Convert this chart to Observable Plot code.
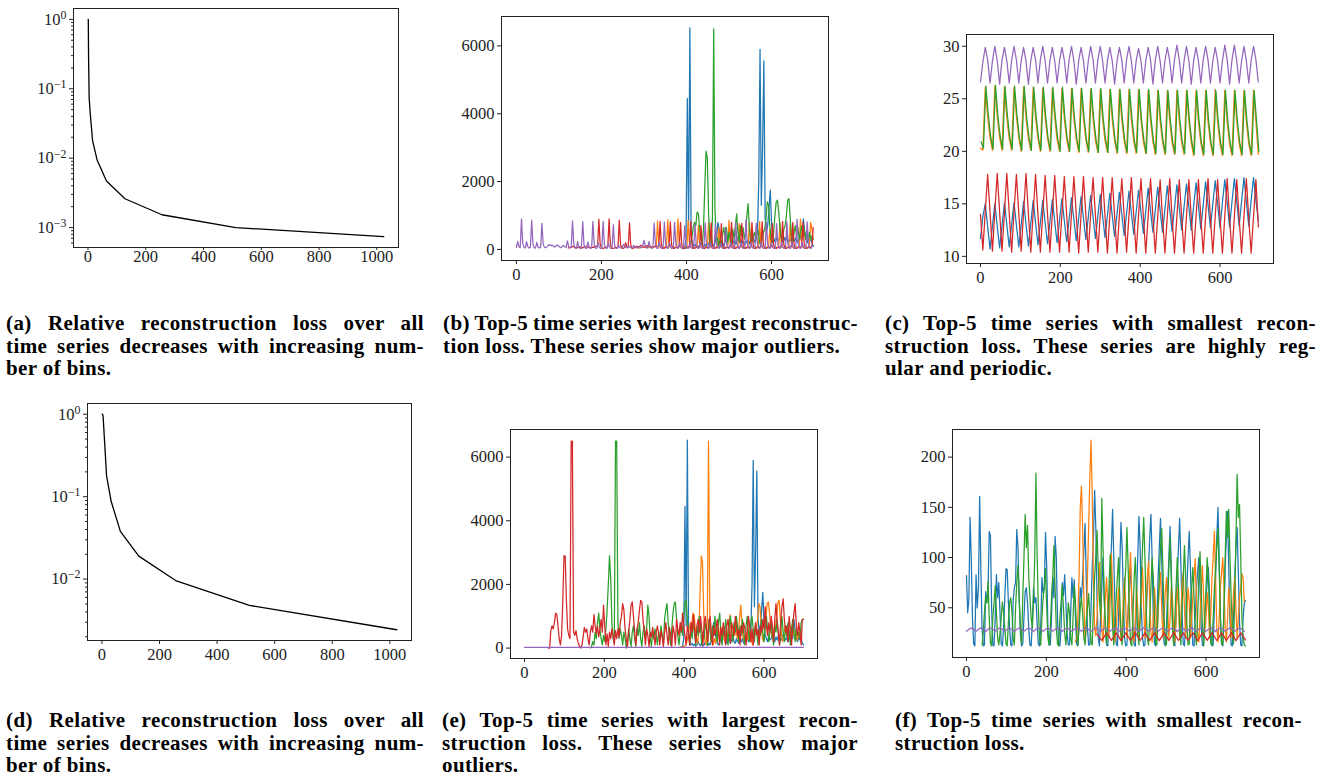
<!DOCTYPE html>
<html><head><meta charset="utf-8">
<script src="https://cdn.jsdelivr.net/npm/d3@7"></script>
<script src="https://cdn.jsdelivr.net/npm/@observablehq/plot@0.6"></script>
<style>
body{margin:0;background:#fff;}
#page{position:relative;width:1330px;height:782px;overflow:hidden;background:#fff;}
.cap{position:absolute;font-family:"Liberation Serif",serif;font-weight:bold;font-size:21px;line-height:22.5px;color:#000;letter-spacing:0.4px;}
.cap div{white-space:nowrap;}
</style></head><body><div id="page"></div>
<script>
// ---------- DATA ----------
const bins = [1,2,4,8,16,32,64,128,256,512,1024];
const lossA = [1.0,0.3,0.075,0.043,0.0177,0.0093,0.0047,0.0026,0.00153,0.00100,0.00074];
const lossD = [1.0,1.0,0.95,0.55,0.18,0.088,0.038,0.019,0.0096,0.0048,0.00243];
const xTicksBins = [0,200,400,600,800,1000];
const xTicksTime = [0,200,400,600];
const yTicksB = [0,2000,4000,6000];
const yTicksC = [10,15,20,25,30];
const yTicksF = [50,100,150,200];
const yTicksA = [1e-3,1e-2,1e-1,1];
const yTicksD = [1e-2,1e-1,1];

// panel (b) series, sampled every 3 steps from the given start
const bPurple = [60,240,80,50,900,170,60,40, 230,80,40,60,860,160,50,40, 210,70,40,60,770,150,60,50, 80,120,140,110,130,90,70,100,
 130,100,70,50,90,120,80,60, 250,80,50,60,840,150,50,30, 230,60,30,50,820,140,40,30, 220,60,30,50,830,150,40,30,
 200,60,30,50,830,140,40,30, 190,60,30,40,720,130,40,30, 120,60,40,50,150,90,60,40, 100,60,40,50,120,80,50,40,
 90,60,50,80,270,110,50,40, 240,70,30,50,780,150,40,30, 220,70,30,50,810,150,40,30, 200,60,30,50,800,140,40,30,
 210,60,30,50,700,140,40,30, 200,60,30,50,750,130,40,30, 190,60,30,50,780,140,40,30, 200,60,30,50,760,140,40,30,
 180,60,30,50,640,130,40,30, 200,60,30,50,800,140,40,30, 210,60,30,50,870,150,40,30, 190,60,30,50,770,140,40,30,
 200,60,30,50,800,140,40,30, 190,60,30,50,760,140,40,30, 200,60,30,50,820,140,40,30, 220,60,30,50,890,150,40,30,
 210,60,30,50,810,140,40,30, 120];
const bRed = [40,60,50,70,90,60,40,50, 60,80,50,40,60,90,70,50, 80,60,50,70,60,80,90,100, 890,160,50,30,40,70,60,80,
 900,150,40,30,40,60,50,70, 860,140,40,30,50,200,60,70, 780,130,40,30,60,80,90,70, 90,120,100,80,60,90,110,80,
 100,80,60,70,90,80,100,120, 830,140,40,30,50,80,60,90, 810,130,40,30,50,70,60,80, 800,140,40,30,50,80,60,80,
 820,140,40,30,50,80,60,90, 700,130,40,30,50,70,60,80, 780,140,40,30,50,80,60,80, 760,130,40,30,50,70,60,80,
 800,140,40,30,50,80,60,90, 770,130,40,30,50,70,60,80, 790,140,40,30,50,80,60,80, 820,140,40,30,50,80,60,80,
 760,130,40,30,50,70,60,80, 830,140,40,30,50,80,60,90, 800,140,40,30,50,80,60,80, 810,140,40,30,50,80,60,80, 650];
const bOrange = [60,50,40,60,80,70,50,60, 110,70,50,60,70,80,90,70, 840,150,60,40,50,60,80,70, 880,160,60,40,50,70,60,80,
 900,160,60,40,50,70,60,80, 860,150,60,40,50,70,60,80, 700,140,60,40,50,70,60,80, 780,150,60,40,50,70,60,80,
 640,140,60,40,50,70,60,80, 860,150,60,40,50,70,60,80, 760,150,60,40,50,70,60,80, 800,150,60,40,50,70,60,80,
 820,150,60,40,50,70,60,80, 600,140,60,40,50,70,60,80, 780,150,60,40,50,70,60,80, 760,150,60,40,50,70,60,80,
 900,150,60,40,50,70,60,80, 800,600,300];
const bGreen = [20,40,30,60,50,100,200,400,650,800,700,1100,1050,600,300,150,600,1800,2900,2700,1100,250,100,900,6500,1200,200,350,100,300,
 150,450,650,300,650,200,500,300,150,600,300,700,1050,500,250,700,400,650,300,500,1000,1350,600,300,200,400,500,250,450,550,
 200,100,300,500,600,900,1400,1300,700,300,200,500,1000,1400,1450,1100,600,350,300,600,700,1000,1450,1500,900,400,200,500,700,400,
 650,300,500,700,400,600,300,550,250,500,300,400,300];
const bBlue = [20,40,60,300,4450,700,6530,400,200,100,150,80,120,60,100,200,120,80,150,60,100,200,120,80,150,100,250,400,800,600,
 250,150,100,200,300,150,400,650,300,150,200,300,150,250,400,200,150,300,200,150,250,200,300,150,250,400,300,200,350,500,
 2000,5900,1300,3000,5560,900,500,700,1200,1750,800,400,300,200,350,250,300,450,300,200,350,250,400,200,300,250,450,300,250,350,
 200,300,250,400,300,900,500,300,200,350,250,300,150,100];

// panel (c) series, sampled every 6 steps
const cPurple = [26.6,28.5,29.9,28.7, 26.5,28.6,30.0,28.6, 26.4,28.7,29.9,28.6, 26.5,28.6,30.0,28.7, 26.5,28.6,29.9,28.6,
 26.4,28.6,29.9,28.7, 26.5,28.7,30.0,28.6, 26.5,28.6,29.9,28.6, 26.5,28.6,29.9,28.7, 26.5,28.7,30.0,28.6,
 26.4,28.6,29.9,28.6, 26.5,28.6,30.0,28.7, 26.5,28.7,30.0,28.6, 26.5,28.6,29.9,28.6, 26.4,28.6,29.9,28.7,
 26.5,28.7,30.0,28.6, 26.5,28.6,29.8,28.6, 26.5,28.6,29.9,28.7, 26.4,28.7,30.0,28.6, 26.5,28.6,29.9,28.6,
 26.5,28.7,30.1,28.7, 26.5,28.6,30.0,28.6, 26.4,28.6,29.9,28.6, 26.5,28.7,30.0,28.7, 26.5,28.6,29.9,28.6,
 26.5,28.6,30.1,28.7, 26.4,28.7,30.1,28.6, 26.5,28.6,30.0,28.6, 26.5,28.6,30.0,28.7, 26.6];
const cOrange = [20.3,20.1,26.1,23.3, 21.3,20.1,26.2,23.3, 21.3,20.1,26.1,23.2, 21.2,20.1,26.1,23.3, 21.3,20.0,26.1,23.2,
 21.2,20.1,26.1,23.2, 21.2,20.0,26.0,23.2, 21.2,20.0,26.0,23.2, 21.1,20.0,26.0,23.1, 21.1,20.0,26.0,23.1,
 21.1,19.9,26.0,23.1, 21.1,19.9,25.9,23.1, 21.0,19.9,25.9,23.0, 21.0,19.9,25.9,23.0, 21.0,19.8,25.9,23.0,
 21.0,19.8,25.9,23.0, 20.9,19.8,25.9,23.0, 20.9,19.8,25.8,22.9, 20.9,19.7,25.8,22.9, 20.9,19.7,25.8,22.9,
 20.8,19.7,25.8,22.9, 20.8,19.7,25.8,22.9, 20.8,19.6,25.8,22.8, 20.8,19.6,25.8,22.8, 20.8,19.6,25.9,22.8,
 20.7,19.6,25.8,22.8, 20.7,19.6,25.8,22.8, 20.7,19.6,25.8,22.8, 20.7,19.6,25.8,22.8, 19.7];
const cGreen = [20.9,20.3,26.2,23.5, 21.4,20.2,26.3,23.4, 21.4,20.2,26.2,23.4, 21.3,20.2,26.2,23.4, 21.3,20.1,26.2,23.3,
 21.3,20.1,26.1,23.3, 21.2,20.1,26.1,23.3, 21.2,20.1,26.1,23.3, 21.2,20.0,26.1,23.2, 21.2,20.0,26.0,23.2,
 21.1,20.0,26.0,23.2, 21.1,20.0,26.0,23.2, 21.1,19.9,26.0,23.1, 21.1,19.9,25.9,23.1, 21.0,19.9,25.9,23.1,
 21.0,19.9,25.9,23.1, 21.0,19.9,25.9,23.0, 21.0,19.8,25.9,23.0, 20.9,19.8,25.8,23.0, 20.9,19.8,25.8,23.0,
 20.9,19.8,25.8,23.0, 20.9,19.8,25.8,22.9, 20.9,19.7,25.8,22.9, 20.8,19.7,25.8,22.9, 20.8,19.7,25.8,22.9,
 20.8,19.7,25.8,22.9, 20.8,19.7,25.8,22.9, 20.8,19.7,25.8,22.9, 20.8,19.7,25.8,22.9, 20.0];
const cRed = [14.0,10.6,14.3,17.8, 14.2,10.5,14.3,17.9, 14.2,10.5,14.2,17.9, 14.1,10.4,14.2,17.8, 14.1,10.5,14.2,17.9,
 14.1,10.4,14.1,17.8, 14.0,10.4,14.1,17.7, 14.0,10.4,14.1,17.7, 14.0,10.4,14.0,17.6, 13.9,10.4,14.0,17.6,
 13.9,10.3,14.0,17.6, 13.9,10.4,14.0,17.5, 13.9,10.4,13.9,17.5, 13.8,10.3,13.9,17.5, 13.8,10.3,13.9,17.4,
 13.8,10.4,13.9,17.5, 13.8,10.3,13.9,17.4, 13.8,10.3,13.8,17.4, 13.7,10.3,13.8,17.3, 13.7,10.3,13.8,17.4,
 13.7,10.3,13.8,17.3, 13.7,10.3,13.8,17.3, 13.7,10.3,13.8,17.3, 13.7,10.3,13.8,17.4, 13.6,10.3,13.8,17.3,
 13.7,10.3,13.8,17.4, 13.6,10.3,13.8,17.3, 13.6,10.3,13.8,17.4, 13.6,10.3,13.8,17.3, 12.8];
const cBlue = [11.7,13.8,15.0,12.8, 10.7,12.9,15.0,12.9, 10.8,12.9,15.1,13.0, 10.9,13.0,15.1,13.0, 10.9,13.0,15.2,13.1,
 11.0,13.1,15.3,13.2, 11.1,13.2,15.3,13.2, 11.2,13.3,15.4,13.3, 11.3,13.4,15.5,13.4, 11.4,13.5,15.6,13.5,
 11.5,13.6,15.7,13.6, 11.6,13.7,15.8,13.7, 11.7,13.8,15.9,13.8, 11.8,13.9,16.0,13.9, 11.9,14.0,16.1,14.0,
 12.0,14.1,16.2,14.1, 12.1,14.2,16.3,14.2, 12.2,14.3,16.5,14.3, 12.3,14.4,16.6,14.4, 12.3,14.5,16.7,14.5,
 12.4,14.6,16.8,14.6, 12.5,14.7,16.9,14.7, 12.5,14.8,17.0,14.8, 12.6,14.9,17.1,14.9, 12.7,15.0,17.2,15.0,
 12.7,15.1,17.3,15.1, 12.8,15.2,17.4,15.2, 12.9,15.2,17.5,15.2, 12.9,15.3,17.5,15.3, 13.4];

// panel (e) series, sampled every 3 steps
const eRed = [0,0,550,700,600,800,1100,1050,700,300,100,400,1500,2900,2900,1500,600,400,300,6500,6500,500,400,550,300,150,50,0,100,350,
 650,500,600,300,100,500,700,500,1050,700,450,700,350,600,900,500,1350,700,100,450,50,500,300,600,400,100,550,300,600,350,
 800,1000,1400,1200,600,300,50,500,900,1350,1450,1000,500,100,600,800,1200,1500,1450,900,500,100,600,400,50,500,350,650,400,100,
 500,700,450,100,550,350,50,500,800,400,100,650,450,50,700,500,100,900,600,400,800,500,1100,700,400,100,700,500,100,800,
 500,1050,600,150,700,900,500,1000,600,100,800,1000,600,200,800,1000,500,100,700,400,600,900,500,100,650,400,800,500,100,700,
 900,500,150,800,600,400,1000,700,400,600,100,700,500,800,600,100,500,1000,700,200,600,100,500,800,400,600,100,700,500,900,
 600,1300,700,400,800,500,1000,700,200,900,1400,800,500,100,900,1300,1550,900,500,700,200,1000,600,100,700,1100,1400,700,400,800,
 500,100,900,900];
const eGreen = [0,50,200,100,500,300,800,1100,600,300,100,400,200,600,1200,2000,2900,2200,800,300,150,6500,6500,800,300,600,400,100,500,300,
 0,200,600,300,50,500,700,300,50,600,400,800,300,50,500,700,300,600,1350,1000,300,50,500,300,600,400,100,500,300,700,
 400,100,900,1200,1400,800,400,100,600,1100,1400,1450,900,400,100,500,800,400,1000,1450,1500,900,400,100,600,300,800,500,100,700,
 400,1000,600,100,500,300,800,600,100,900,500,200,700,400,1000,600,200,800,1100,500,100,600,400,900,500,100,700,1000,
 500,200,800,500,1000,600,200,700,400,900,500,100,700,1000,500,200,800,1000,600,200,700,500,100,600,400,900,500,200,700,1000,
 600,200,500,800,400,100,700,500,900,400,100,600,1000,500,200,700,400,800,500,100,600,900,500,200,600,400,500,300,800,900,900];
const ePurple = [20,20];

// panel (f) series
const fBlue = [82,45,58,140,100,40,14,12, 83,50,70,161,90,30,12,13, 66,55,68,126,122,50,13,12, 40,83,60,75,45,14,12,30,
 60,89,88,55,30,13,12,58, 70,75,128,110,60,25,12,14, 40,66,70,55,30,13,12,35, 70,55,60,35,14,12,30,80,
 65,70,125,90,30,13,13,40, 80,60,121,100,40,14,12,30, 75,62,83,55,25,13,13,45, 80,60,78,40,14,12,35,70,
 60,80,105,134,80,30,13,13, 50,90,120,167,130,60,20,12, 40,70,100,60,30,13,12,50, 80,110,148,100,50,14,12,40,
 90,135,110,60,20,12,13,50, 70,90,60,30,13,12,60,100, 141,110,50,20,12,13,40,70, 90,120,143,100,40,14,12,40,
 80,110,139,100,50,15,12,30, 70,100,131,90,40,13,12,40, 80,110,139,95,45,14,12,35, 70,100,126,90,40,13,12,40,
 70,85,100,70,30,13,12,45, 60,75,90,60,25,12,13,50, 80,120,150,100,40,14,12,40, 90,120,146,90,35,13,12,45,
 80,110,130,85,35,13,12,40, 55,57];
const fOrange = [16,20,40,80,150,171,129,60,16,30,80,130,180,217,162,80,30,22,40,70,95,60,30,16,40,60,80,50,20,60,
 104,70,30,16,30,50,70,40,18,30,60,80,50,20,40,80,105,60,25,16,40,70,50,20,40,60,90,50,20,50,
 80,96,60,25,16,40,70,50,20,45,70,85,50,20,40,65,80,50,20,40,70,60,25,16,40,70,55,20,40,75,
 85,50,20,45,70,55,20,40,60,80,99,60,25,16,40,70,92,60,25,40,65,50,20,45,80,100,126,80,30,16,
 40,70,85,100,70,30,16,40,70,50,20,40,65,80,50,20,40,60,70,84,79,56];
const fGreen = [13,25,45,60,55,76,40,15, 12,40,55,72,45,20,13,25, 40,56,45,30,14,12,35,55, 60,45,20,13,50,75,92,60,
 30,14,60,100,143,110,132,80, 60,40,30,60,100,184,102,50, 20,13,40,60,70,89,50,20, 13,30,60,80,112,70,30,14,
 12,40,55,72,50,25,13,30, 55,45,20,13,40,72,55,25, 13,30,50,60,45,20,13,35, 50,64,40,15,13,50,80,101,
 127,90,60,40,159,110,60,30, 14,40,70,103,70,30,13,40, 60,80,100,60,25,13,40,70, 90,130,90,45,15,12,40,80,
 100,60,25,13,40,80,110,140, 100,50,20,13,40,70,100,80, 40,15,13,50,80,110,129,90, 40,14,13,50,90,120,80,30,
 13,40,70,100,70,30,13,50, 80,112,80,35,13,14,50,70, 90,60,25,13,40,80,106,70, 30,13,40,70,100,80,40,14,
 13,40,70,90,110,129,90,40, 14,13,50,100,146,120,148,100, 60,30,14,60,120,183,140,153, 100,40,20,13,12];
const fRed = [24,21,17.5,21, 25,21.5,17.5,21, 25.2,21.5,17.3,21, 25,21.4,17.5,21.2, 25.3,21.5,17.4,21, 25,21.5,17.5,21.1,
 25.2,21.4,17.3,21, 25,21.5,17.5,21.2, 25.4,21.5,17.4,21, 25,21.4,17.5,21.1, 25.2,21.5,17.3,21, 25,21.5,17.5,21.2,
 25.3,21.4,17.4,21, 25,21.5,17.5,21.1, 25.2,21.5,17.3,21, 25,21.5,18];

// series table: [colour, values, first time step, sampling step]
const seriesB = [["blue",bBlue,390,3],["orange",bOrange,284,3],["green",bGreen,392,3],["red",bRed,122,3],["purple",bPurple,0,3]];
const seriesC = [["blue",cBlue,0,6],["orange",cOrange,0,6],["green",cGreen,1.5,6],["red",cRed,0,6],["purple",cPurple,0,6]];
const seriesE = [["blue",bBlue,390,3],["orange",bGreen,389,3],["green",eGreen,165,3],["red",eRed,60,3],["purple",ePurple,0,699]];
const seriesF = [["blue",fBlue,0,3],["orange",fOrange,273,3],["green",fGreen,39,3],["red",fRed,327,6],["purple",cPurple,0,6]];

const captions = [
 {left:6,top:312,width:418,lines:["(a) Relative reconstruction loss over all","time series decreases with increasing num-","ber of bins."]},
 {left:443,top:312,width:415,lines:["(b) Top-5 time series with largest reconstruc-","tion loss. These series show major outliers."]},
 {left:885,top:312,width:431,lines:["(c) Top-5 time series with smallest recon-","struction loss. These series are highly reg-","ular and periodic."]},
 {left:6,top:709,width:418,lines:["(d) Relative reconstruction loss over all","time series decreases with increasing num-","ber of bins."]},
 {left:442,top:709,width:416,lines:["(e) Top-5 time series with largest recon-","struction loss. These series show major","outliers."]},
 {left:895,top:709,width:407,lines:["(f) Top-5 time series with smallest recon-","struction loss."]}
];

// ---------- DRAWING ----------
const tab = {blue:"#1f77b4",orange:"#ff7f0e",green:"#2ca02c",red:"#d62728",purple:"#9467bd"};
const page = document.getElementById("page");
const M = {l:62,r:14,t:10,b:36};

function rows(values,x0,step){ return values.map((y,i)=>({x:x0+step*i,y})); }

function minorTicks(domain){
  const out=[];
  for(let k=-5;k<=1;k++) for(let m=2;m<=9;m++){ const v=m*Math.pow(10,k); if(v>=domain[0]&&v<=domain[1]) out.push(v); }
  return out;
}

function panel(cfg){
  const f = cfg.frame;
  const marks = [];
  if (cfg.loss) {
    marks.push(Plot.line(bins.map((x,i)=>({x,y:cfg.loss[i]})),{x:"x",y:"y",stroke:"#000",strokeWidth:1.3,clip:true}));
  } else {
    for (const [c,vals,x0,step] of cfg.series)
      marks.push(Plot.line(rows(vals,x0,step),{x:"x",y:"y",stroke:tab[c],strokeWidth:1.25,clip:true}));
  }
  marks.push(Plot.frame({stroke:"#222",strokeWidth:1}));
  marks.push(Plot.axisX({ticks:cfg.xTicks,tickSize:cfg.xTickSize ?? 4,tickPadding:cfg.xPad ?? 4,tickFormat:d=>String(d),label:null}));
  if (cfg.log) {
    marks.push(Plot.axisY({ticks:cfg.yTicks,tickSize:4,tickPadding:3,tickFormat:d=>String(Math.round(Math.log10(d))),label:null}));
    marks.push(Plot.axisY({ticks:minorTicks(cfg.yDomain),tickSize:2,tickFormat:()=>"",label:null}));
  } else {
    marks.push(Plot.axisY({ticks:cfg.yTicks,tickSize:4,tickPadding:3,tickFormat:d=>String(d),label:null}));
  }
  const svg = Plot.plot({
    width:f.w+M.l+M.r, height:f.h+M.t+M.b,
    marginLeft:M.l, marginRight:M.r, marginTop:M.t, marginBottom:M.b,
    x:{type:"linear",domain:cfg.xDomain},
    y:{type:cfg.log?"log":"linear",domain:cfg.yDomain},
    style:{fontFamily:"'Liberation Serif', serif",fontSize:"16.5px",color:"#222",background:"transparent",overflow:"visible"},
    marks
  });
  svg.style.position="absolute";
  svg.style.left=(f.l-M.l)+"px";
  svg.style.top=(f.t-M.t)+"px";
  if (cfg.log) {
    svg.querySelectorAll('g[aria-label="y-axis tick label"] text').forEach(t=>{
      const s=t.textContent; if(!s) return;
      t.textContent="10";
      const ts=document.createElementNS("http://www.w3.org/2000/svg","tspan");
      ts.setAttribute("dy","-0.5em"); ts.setAttribute("font-size","0.72em");
      ts.textContent=s.replace("-","\u2212");
      t.appendChild(ts);
    });
  }
  page.appendChild(svg);
}

panel({frame:{l:73,t:8,w:325,h:239},xDomain:[-50.15,1075.15],xTicks:xTicksBins,xTickSize:3,xPad:0,log:true,yDomain:[5.16e-4,1.434],yTicks:yTicksA,loss:lossA});
panel({frame:{l:501,t:16,w:327,h:244},xDomain:[-35,734],xTicks:xTicksTime,yDomain:[-327,6867],yTicks:yTicksB,series:seriesB});
panel({frame:{l:966,t:34,w:307,h:229},xDomain:[-35,734],xTicks:xTicksTime,yDomain:[9.32,31.12],yTicks:yTicksC,series:seriesC});
panel({frame:{l:87,t:403,w:324,h:237},xDomain:[-50.15,1075.15],xTicks:xTicksBins,log:true,yDomain:[1.80e-3,1.351],yTicks:yTicksD,loss:lossD});
panel({frame:{l:510,t:429,w:307,h:229},xDomain:[-35,734],xTicks:xTicksTime,yDomain:[-327,6867],yTicks:yTicksB,series:seriesE});
panel({frame:{l:952,t:429,w:307,h:228},xDomain:[-35,734],xTicks:xTicksTime,yDomain:[0.5,227.5],yTicks:yTicksF,series:seriesF});

// captions: every line but the last is justified to the column width
for (const c of captions){
  const d=document.createElement("div");
  d.className="cap";
  d.style.left=c.left+"px"; d.style.top=c.top+"px"; d.style.width=c.width+"px";
  page.appendChild(d);
  c.lines.forEach((ln,i)=>{
    const l=document.createElement("div");
    const sp=document.createElement("span");
    sp.textContent=ln;
    l.appendChild(sp);
    d.appendChild(l);
    if(i<c.lines.length-1){
      const w=sp.getBoundingClientRect().width;
      const n=(ln.match(/ /g)||[]).length;
      if(n>0) sp.style.wordSpacing=((c.width-w)/n)+"px";
    }
  });
}
</script></body></html>
